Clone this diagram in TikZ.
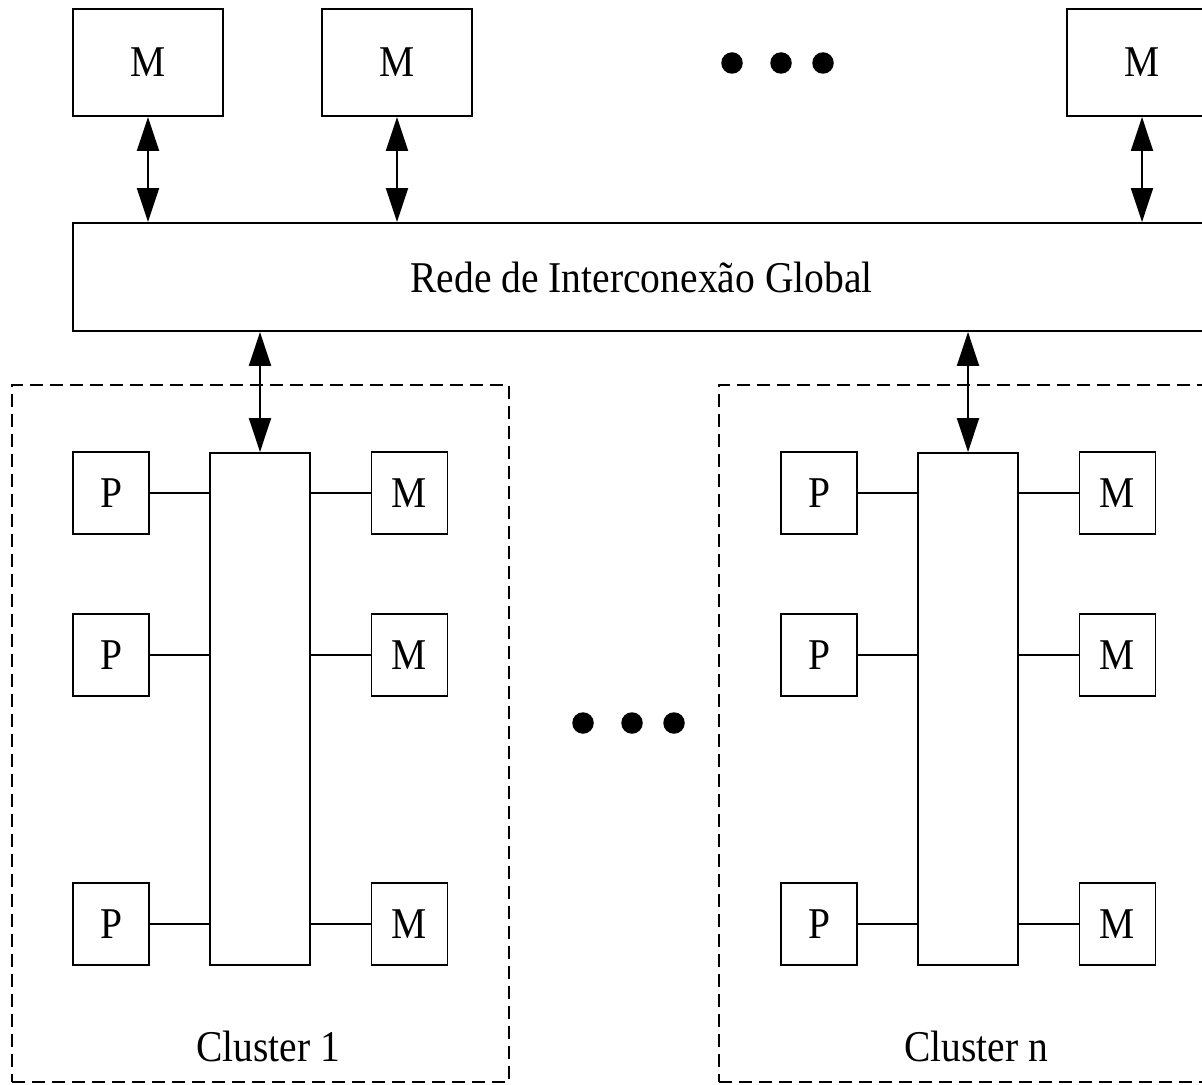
\documentclass[tikz,border=0pt]{standalone}
\usepackage{fontspec}
\setmainfont{Liberation Serif}[FakeStretch=0.9]
\usetikzlibrary{arrows.meta}
\newcommand\diagfont{\fontsize{25}{30}\selectfont}
\begin{document}
\begin{tikzpicture}[x=0.02cm, y=-0.02cm,
  every node/.style={font=\diagfont},
  unit/.style={draw, line width=1.1pt, inner sep=0pt, fill=white},
  gmem/.style={unit, minimum width=3cm, minimum height=2.14cm},
  pbox/.style={unit, minimum width=1.52cm, minimum height=1.64cm},
  busbox/.style={unit, minimum width=2cm, minimum height=10.24cm},
  netbox/.style={unit, minimum width=22.74cm, minimum height=2.16cm},
  clusterframe/.style={draw, line width=1.1pt, dash pattern=on 0.26cm off 0.14cm,
    minimum width=9.94cm, minimum height=13.94cm, inner sep=0pt},
  link/.style={line width=1.1pt},
  biarrow/.style={line width=1.1pt, {Triangle[length=0.68cm, width=0.44cm]}-{Triangle[length=0.68cm, width=0.44cm]}},
  dot/.style={circle, fill=black, minimum size=0.43cm, inner sep=0pt}]
\clip (0,0) rectangle (1202,1084);

% cluster frames
\node[clusterframe] (c1) at (260.5,733.5) {};
\node[clusterframe] (cn) at (967.5,733.5) {};

% global memories
\node[gmem] (gm1) at (148,62.5) {M};
\node[gmem] (gm2) at (397,62.5) {M};
\node[gmem] (gm3) at (1142,62.5) {M};
\node[dot] (td1) at (732,63) {};
\node[dot] (td2) at (781,63) {};
\node[dot] (td3) at (823,63) {};

% global interconnection network
\node[netbox] (net) at (641.5,277) {Rede de Interconexão Global};
\foreach \m in {gm1,gm2,gm3}
  \draw[biarrow] (\m.south) -- (\m.south |- net.north);

% clusters: local bus with processors and memories
\foreach \c/\bx in {a/260, b/968} {
  \node[busbox] (bus\c) at (\bx,709) {};
  \draw[biarrow] (bus\c.north |- net.south) -- (bus\c.north);
  \foreach \r/\ry in {1/493, 2/655, 3/924} {
    \node[pbox] (p\c\r) at (\bx-149,\ry) {P};
    \node[pbox] (m\c\r) at (\bx+149.5,\ry) {M};
    \draw[link] (p\c\r.east) -- (p\c\r.east -| bus\c.west);
    \draw[link] (m\c\r.west) -- (m\c\r.west -| bus\c.east);
  }
}
\node (l1) at (268,1046) {Cluster 1};
\node (ln) at (976,1046) {Cluster n};

% more clusters
\node[dot] (md1) at (583,723) {};
\node[dot] (md2) at (632,723) {};
\node[dot] (md3) at (674,723) {};
\end{tikzpicture}
\end{document}
